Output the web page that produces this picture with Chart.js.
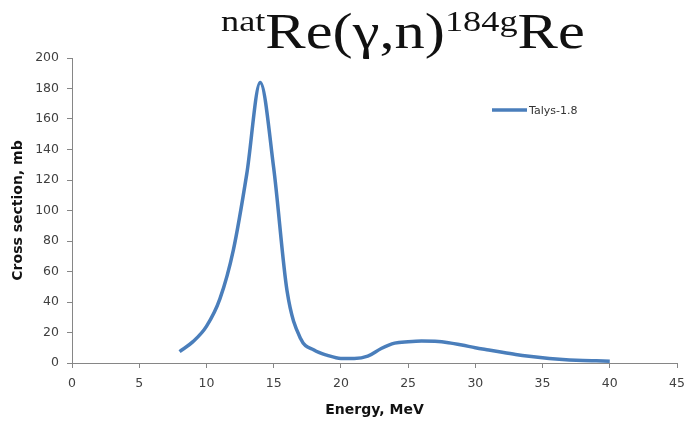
<!DOCTYPE html>
<html>
<head>
<meta charset="utf-8">
<script src="https://cdn.jsdelivr.net/npm/chart.js@4.4.1/dist/chart.umd.min.js"></script>
<style>
  html, body { margin: 0; padding: 0; background: #fff; }
  #wrap { position: relative; width: 690px; height: 423px; }
  #title {
    position: absolute; left: 221px; top: -1px;
    font-family: "Liberation Serif", "Times New Roman", serif;
    color: #111; white-space: nowrap;
    transform: scaleX(1.21); transform-origin: left top;
    font-size: 50px; line-height: 64px;
  }
  #title sup { font-size: 30px; vertical-align: 17px; line-height: 0; }
</style>
</head>
<body>
<div id="wrap">
  <canvas id="myChart" width="690" height="423"></canvas>
  <div id="title"><sup>nat</sup>Re(γ,n)<sup>184g</sup>Re</div>
</div>
<script>
// 데이터
const energy = [8, 9, 10, 11, 12, 13, 14, 15, 16, 17, 18, 19, 20, 21, 22, 23, 24,
                25, 26, 27, 28, 29, 30, 31, 32, 33, 34, 35, 36, 37, 38, 39, 40];
const talys = [7.5, 14, 24, 42, 74, 124, 184, 128, 47, 16, 8.5, 5, 3, 3, 4.5, 9.5, 13,
               14, 14.5, 14.2, 13.3, 11.8, 10, 8.5, 7, 5.6, 4.4, 3.4, 2.6, 2, 1.6, 1.4, 1.2];
const seriesLabel = 'Talys-1.8';
const xTitle = 'Energy, MeV';
const yTitle = 'Cross section, mb';

const lineColor = '#4a7ebb';
const axisColor = '#868686';

let points = [];
for (let i = 0; i < energy.length; i++) {
  points.push({ x: energy[i], y: talys[i] });
}

// 범례 직접 그리기
const legendPlugin = {
  id: 'sideLegend',
  afterDraw(chart) {
    const ctx = chart.ctx;
    const a = chart.chartArea;
    const x0 = 492, y0 = a.top + 52;
    ctx.save();
    ctx.strokeStyle = chart.data.datasets[0].borderColor;
    ctx.lineWidth = 3.5;
    ctx.beginPath();
    ctx.moveTo(x0, y0);
    ctx.lineTo(x0 + 35, y0);
    ctx.stroke();
    ctx.fillStyle = '#333';
    ctx.font = '11px "DejaVu Sans"';
    ctx.textBaseline = 'middle';
    ctx.fillText(chart.data.datasets[0].label, x0 + 37, y0 + 1);
    ctx.restore();
  }
};

const ctx = document.getElementById('myChart');
new Chart(ctx, {
  type: 'scatter',
  data: {
    datasets: [{
      label: seriesLabel,
      data: points,
      showLine: true,
      borderColor: lineColor,
      borderWidth: 3.5,
      pointRadius: 0,
      cubicInterpolationMode: 'monotone',
      fill: false
    }]
  },
  options: {
    responsive: false,
    animation: false,
    layout: { padding: { top: 58, right: 13, left: 6, bottom: 0 } },
    plugins: {
      legend: { display: false },
      tooltip: { enabled: false }
    },
    scales: {
      x: {
        type: 'linear', min: 0, max: 45,
        ticks: { stepSize: 5, color: '#404040', font: { family: 'DejaVu Sans', size: 12.5 }, padding: 8 },
        grid: { drawOnChartArea: false, tickLength: 5, color: axisColor },
        border: { color: axisColor, width: 1 },
        title: { display: true, text: xTitle, color: '#111', font: { family: 'DejaVu Sans', size: 14, weight: 'bold' }, padding: { top: 4 } },
        afterFit(axis) { axis.height = 60; axis.paddingRight = 0; axis.paddingLeft = 0; }
      },
      y: {
        min: 0, max: 200,
        ticks: { stepSize: 20, color: '#404040', font: { family: 'DejaVu Sans', size: 12.5 }, padding: 8 },
        grid: { drawOnChartArea: false, tickLength: 5, color: axisColor },
        border: { color: axisColor, width: 1 },
        title: { display: true, text: yTitle, color: '#111', font: { family: 'DejaVu Sans', size: 14, weight: 'bold' } },
        afterFit(axis) { axis.width = 66; }
      }
    }
  },
  plugins: [legendPlugin]
});
</script>
</body>
</html>
